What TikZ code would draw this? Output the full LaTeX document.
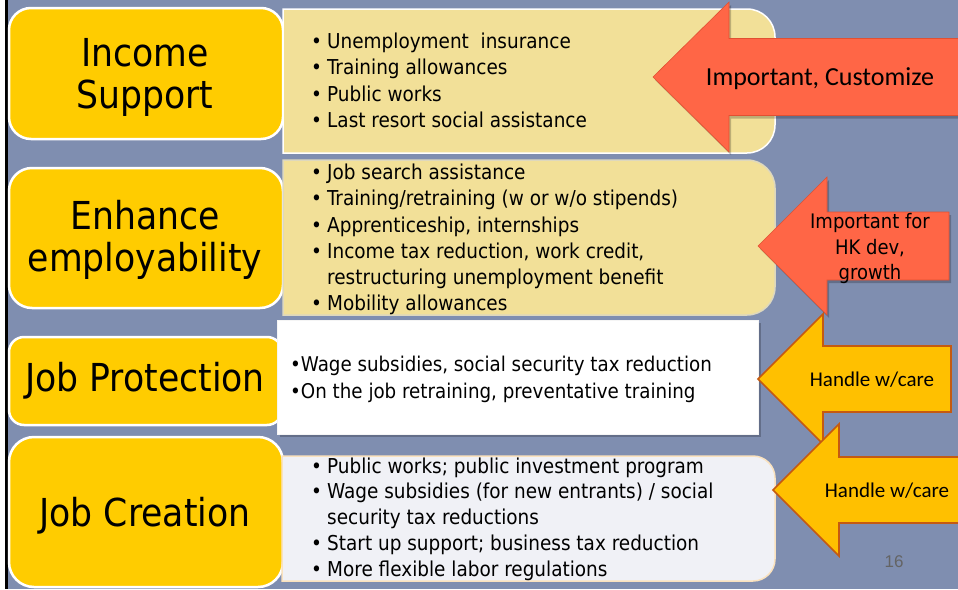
\documentclass[tikz,border=0pt]{standalone}
\usepackage{fontspec}
\newfontfamily\tahfont{DejaVu Sans Condensed}
\newfontfamily\calfont{Carlito}
\newfontfamily\arifont{Liberation Sans}

\definecolor{slate}{RGB}{127,142,176}
\definecolor{gold}{RGB}{255,204,0}
\definecolor{khaki}{RGB}{242,224,152}
\definecolor{khakiedge}{RGB}{222,216,190}
\definecolor{paper}{RGB}{240,241,246}
\definecolor{paperedge}{RGB}{250,226,190}
\definecolor{tomato}{RGB}{255,102,70}
\definecolor{tomatoedge}{RGB}{225,80,50}
\definecolor{amber}{RGB}{255,192,0}
\definecolor{rust}{RGB}{197,90,17}
\definecolor{pagegray}{RGB}{100,100,100}

% bullet item and continuation line for the lists
\newcommand\itm{\strut\makebox[16pt][l]{•}}
\newcommand\cnt{\strut\hspace*{16pt}}

% box with square left corners and rounded right corners:
% #1 style, (#2,#3) top left, (#4,#5) bottom right, #6 radius
\newcommand\rbox[6]{%
  \path[#1] (#2,#3) -- ({#4-#6},#3)
    .. controls ({#4-0.448*#6},#3) and (#4,{#3+0.448*#6}) .. (#4,{#3+#6})
    -- (#4,{#5-#6})
    .. controls (#4,{#5-0.448*#6}) and ({#4-0.448*#6},#5) .. ({#4-#6},#5)
    -- (#2,#5) -- cycle;}

% left-pointing block arrow: #1 style, tip (#2,#3), head back x #4,
% head half height #5, shaft half height #6, tail x #7
\newcommand\larrow[7]{%
  \path[#1] (#2,#3) -- (#4,{#3-#5}) -- (#4,{#3-#6}) -- (#7,{#3-#6})
    -- (#7,{#3+#6}) -- (#4,{#3+#6}) -- (#4,{#3+#5}) -- cycle;}

\begin{document}
\begin{tikzpicture}[x=1pt,y=-1pt,
  lbl/.style={rounded corners=#1, fill=gold, draw=white, line width=2.5pt, inner sep=0pt},
  lbltext/.style={align=center, inner sep=0pt, font=\tahfont\fontsize{38.5}{42}\selectfont},
  bodytext/.style={anchor=west, align=left, inner sep=0pt,
    font=\tahfont\fontsize{20.5}{#1}\selectfont},
  arrowtext/.style={inner sep=0pt, align=center, text=black}]

\useasboundingbox (0,0) rectangle (958,589);
\fill[slate] (0,0) rectangle (958,589);
\fill[white] (0,0) rectangle (5,589);
\fill[black] (5,0) rectangle (8,589);

% category labels
\node[lbl=22, minimum width=274pt, minimum height=131pt] (inc) at (146,73.5) {};
\node[lbl=23, minimum width=274pt, minimum height=140pt] (emp) at (146,238) {};
\node[lbl=15, minimum width=273pt, minimum height=88pt] (pro) at (145.5,381) {};
\node[lbl=25, minimum width=274pt, minimum height=150pt] (cre) at (146,512) {};
\node[lbltext] (inct) at (145,77) {Income\\Support};
\node[lbltext] (empt) at (145,240) {Enhance\\employability};
\node[lbltext] (prot) at (145,381) {Job Protection};
\node[lbltext] (cret) at (145,516) {Job Creation};

% measure boxes
\rbox{fill=khaki, draw=white, line width=1.5pt}{283}{9}{775}{153}{28}
\rbox{fill=khaki, draw=khakiedge, line width=1.5pt}{283}{160}{775}{315}{28}
\fill[black, opacity=0.22] (280,323) rectangle (761,437);
\filldraw[fill=white, draw=white!92!gray, line width=0.8pt] (277,320) rectangle (758,434);
\rbox{fill=paper, draw=paperedge, line width=1.5pt}{282}{456}{775}{581}{22}

\node[bodytext=26.5] (l1) at (311,82.5) {%
  \itm Unemployment\ \ insurance\\
  \itm Training allowances\\
  \itm Public works\\
  \itm Last resort social assistance};
\node[bodytext=26.2] (l2) at (311,240) {%
  \itm Job search assistance\\
  \itm Training/retraining (w or w/o stipends)\\
  \itm Apprenticeship, internships\\
  \itm Income tax reduction, work credit,\\
  \cnt restructuring unemployment benefit\\
  \itm Mobility allowances};
\node[anchor=west, align=left, inner sep=0pt,
  font=\tahfont\fontsize{20.3}{27}\selectfont] (l3) at (290,380) {%
  \strut•Wage subsidies, social security tax reduction\\
  \strut•On the job retraining, preventative training};
\node[bodytext=25.8] (l4) at (311,519.5) {%
  \itm Public works; public investment program\\
  \itm Wage subsidies (for new entrants) / social\\
  \cnt security tax reductions\\
  \itm Start up support; business tax reduction\\
  \itm More flexible labor regulations};

% priority arrows
\larrow{fill=black, opacity=0.22, xshift=2pt, yshift=-3pt}{653}{77}{729}{75}{38.5}{958}
\larrow{fill=tomato, draw=tomatoedge, line width=0.6pt}{653}{77}{729}{75}{38.5}{960}
\node[arrowtext, font=\calfont\fontsize{26}{30}\selectfont] (a1) at (820,79) {Important, Customize};

\larrow{fill=amber, draw=rust, line width=1.6pt}{758}{379}{823}{65}{33}{951}
\node[arrowtext, font=\calfont\fontsize{21}{25}\selectfont] (a3) at (872,380) {Handle w/care};

\larrow{fill=black, opacity=0.22, xshift=2pt, yshift=-3pt}{758}{246}{827}{69}{34}{949}
\larrow{fill=tomato, draw=tomatoedge, line width=0.6pt}{758}{246}{827}{69}{34}{949}
\node[arrowtext, font=\tahfont\fontsize{20}{25.5}\selectfont] (a2) at (870,248.5) {Important for\\HK dev,\\growth};

\larrow{fill=amber, draw=rust, line width=1.6pt}{773}{490}{839}{66}{33}{964}
\node[arrowtext, font=\calfont\fontsize{21}{25}\selectfont] (a4) at (887,491) {Handle w/care};

\node[inner sep=0pt, text=pagegray, font=\arifont\fontsize{17}{20}\selectfont] (pg) at (894,562) {16};
\end{tikzpicture}
\end{document}
